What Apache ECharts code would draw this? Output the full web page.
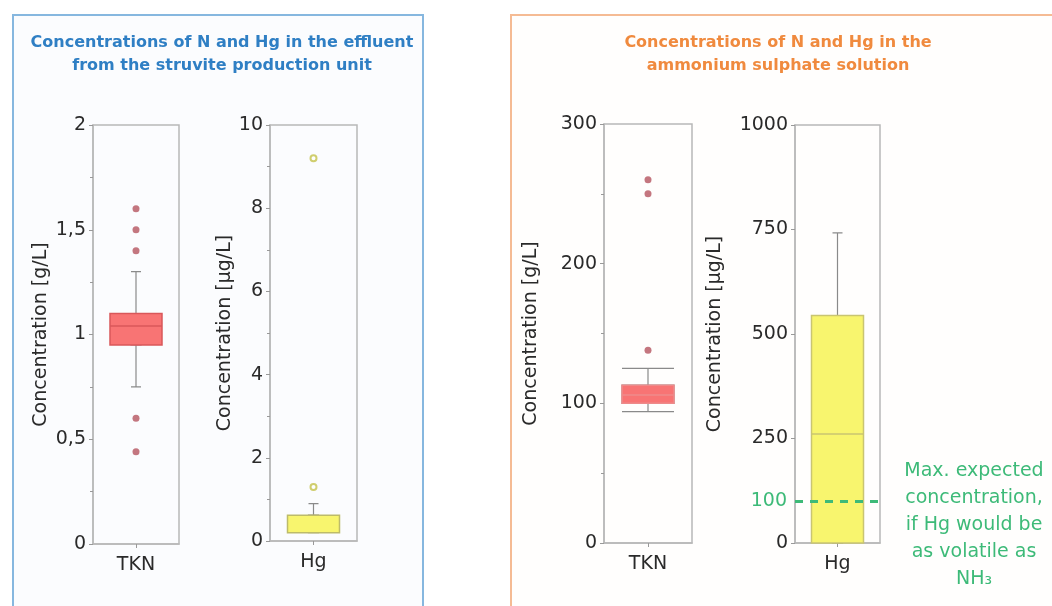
<!DOCTYPE html>
<html>
<head>
<meta charset="utf-8">
<script src="https://cdn.jsdelivr.net/npm/echarts@6/dist/echarts.min.js"></script>
<style>
html,body{margin:0;padding:0;background:#fff;}
#chart{width:1052px;height:606px;}
</style>
</head>
<body>
<div id="chart"></div>
<script>
// ---- data ----
const categoriesTKN = ['TKN'];
const categoriesHg = ['Hg'];
// boxplot values: [lower whisker, Q1, median, Q3, upper whisker]
const tknEffluentBox = [0.75, 0.95, 1.04, 1.10, 1.30];
const tknEffluentOutliers = [1.60, 1.50, 1.40, 0.60, 0.44];
const hgEffluentBox = [0.20, 0.20, 0.20, 0.62, 0.90];
const hgEffluentOutliers = [1.3, 9.2];
const tknAmmoniumBox = [94, 100, 106, 113, 125];
const tknAmmoniumOutliers = [260, 250, 138];
const hgAmmoniumBox = [0, 0, 261, 544, 742];
const hgExpectedMax = 100;
const titleEffluent = 'Concentrations of N and Hg in the effluent\nfrom the struvite production unit';
const titleAmmonium = 'Concentrations of N and Hg in the\nammonium sulphate solution';
const yNameGL = 'Concentration [g/L]';
const yNameUgL = 'Concentration [µg/L]';
const annotation = 'Max. expected\nconcentration,\nif Hg would be\nas volatile as\nNH₃';

const FONT = 'DejaVu Sans, Liberation Sans, sans-serif';
const axisGray = '#b8b8b8';
const labelColor = '#2a2a2a';
const green = '#3dba78';
const FS = 19;

const grids = [
  {left: 93, top: 125, width: 86, height: 419},
  {left: 270, top: 125, width: 87, height: 416},
  {left: 604, top: 124, width: 88, height: 419},
  {left: 795, top: 125, width: 85, height: 418}
].map(g => Object.assign({show: true, borderColor: axisGray, borderWidth: 1.5, backgroundColor: 'transparent'}, g));

function xAxis(i, cats, hidden) {
  return {
    type: 'category', gridIndex: i, data: cats, boundaryGap: true, show: !hidden,
    axisLine: {show: true, lineStyle: {color: axisGray, width: 1.5}},
    axisTick: {show: true, alignWithLabel: true, length: 4, lineStyle: {color: '#999'}},
    axisLabel: {fontSize: FS, color: labelColor, fontFamily: FONT, margin: 12},
    splitLine: {show: false}
  };
}
function yAxis(i, max, interval, name, gap, minor, fmt) {
  return {
    type: 'value', gridIndex: i, min: 0, max: max, interval: interval,
    name: name, nameLocation: 'middle', nameGap: gap,
    nameTextStyle: {fontSize: FS, color: labelColor, fontFamily: FONT},
    axisLine: {show: true, lineStyle: {color: axisGray, width: 1.5}},
    axisTick: {show: true, length: 4, lineStyle: {color: '#999'}},
    minorTick: {show: minor, splitNumber: 2, length: 3, lineStyle: {color: '#999'}},
    axisLabel: {fontSize: FS, color: labelColor, fontFamily: FONT, margin: 7, formatter: fmt},
    splitLine: {show: false}
  };
}

function whiskers(i, box, cap) {
  return {
    type: 'boxplot', xAxisIndex: i, yAxisIndex: i, z: 2,
    boxWidth: [cap, cap],
    data: [box],
    itemStyle: {color: 'rgba(0,0,0,0)', borderColor: '#8a8a8a', borderWidth: 1.2},
    emphasis: {disabled: true}, silent: true
  };
}
function body(i, box, fill, border) {
  return {
    type: 'boxplot', xAxisIndex: i + 4, yAxisIndex: i, z: 3,
    boxWidth: [52, 52],
    data: [[box[1], box[1], box[2], box[3], box[3]]],
    itemStyle: {color: fill, borderColor: border, borderWidth: 1.5},
    emphasis: {disabled: true}, silent: true
  };
}
function outliers(i, cat, vals, hollow) {
  return {
    type: 'scatter', xAxisIndex: i, yAxisIndex: i, z: 4,
    symbol: hollow ? 'emptyCircle' : 'circle',
    symbolSize: hollow ? 6 : 7,
    data: vals.map(v => [cat, v]),
    itemStyle: hollow ? {color: '#c4c24a', borderColor: '#c4c24a', borderWidth: 1.5} : {color: '#b5545f'},
    silent: true
  };
}

const comma = v => String(v).replace('.', ',');
const plain = v => String(v);

const option = {
  backgroundColor: '#ffffff',
  animation: false,
  title: [
    {text: titleEffluent, left: 217, top: 26, textAlign: 'center',
     textStyle: {fontSize: 16, fontWeight: 'bold', color: '#2f7fc4', fontFamily: FONT, lineHeight: 23}},
    {text: titleAmmonium, left: 773, top: 26, textAlign: 'center',
     textStyle: {fontSize: 16, fontWeight: 'bold', color: '#f08a3e', fontFamily: FONT, lineHeight: 23}}
  ],
  graphic: [
    {type: 'rect', z: -1, shape: {x: 13, y: 15, width: 410, height: 640},
     style: {fill: '#fbfcfe', stroke: '#86b7df', lineWidth: 2}},
    {type: 'rect', z: -1, shape: {x: 511, y: 15, width: 620, height: 640},
     style: {fill: '#fffefd', stroke: '#f5bb94', lineWidth: 2}},
    {type: 'text', x: 974, y: 458, z: 10,
     style: {text: annotation, fill: green, font: '19px ' + FONT, lineHeight: 27, textAlign: 'center', align: 'center'}}
  ],
  grid: grids,
  xAxis: [
    xAxis(0, categoriesTKN), xAxis(1, categoriesHg), xAxis(2, categoriesTKN), xAxis(3, categoriesHg),
    xAxis(0, categoriesTKN, true), xAxis(1, categoriesHg, true), xAxis(2, categoriesTKN, true), xAxis(3, categoriesHg, true)
  ],
  yAxis: [
    yAxis(0, 2, 0.5, yNameGL, 42, true, comma),
    yAxis(1, 10, 2, yNameUgL, 34, true, plain),
    yAxis(2, 300, 100, yNameGL, 63, true, plain),
    yAxis(3, 1000, 250, yNameUgL, 70, false, plain)
  ],
  series: [
    whiskers(0, tknEffluentBox, 10),
    body(0, tknEffluentBox, '#f87474', '#d9575a'),
    outliers(0, 'TKN', tknEffluentOutliers, false),

    whiskers(1, hgEffluentBox, 10),
    body(1, hgEffluentBox, '#f8f56e', '#bdbb6a'),
    outliers(1, 'Hg', hgEffluentOutliers, true),

    whiskers(2, tknAmmoniumBox, 52),
    body(2, tknAmmoniumBox, '#f87474', '#ee8a8a'),
    outliers(2, 'TKN', tknAmmoniumOutliers, false),

    whiskers(3, hgAmmoniumBox, 10),
    Object.assign(body(3, hgAmmoniumBox, '#f8f56e', '#c9c572'), {
      markLine: {
        silent: true, symbol: ['none', 'none'],
        lineStyle: {color: green, type: [8, 7], width: 3},
        label: {show: true, position: 'start', formatter: String(hgExpectedMax), color: green,
                fontSize: FS, fontFamily: FONT, distance: 8},
        data: [{yAxis: hgExpectedMax}]
      }
    })
  ]
};

const chart = echarts.init(document.getElementById('chart'), null, {renderer: 'canvas'});
chart.setOption(option);
</script>
</body>
</html>
